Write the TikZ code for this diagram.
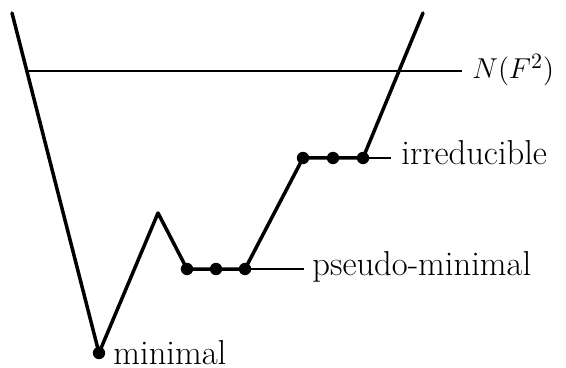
\documentclass[tikz,border=0pt]{standalone}
\begin{document}
\begin{tikzpicture}[x=0.5pt,y=-0.5pt,
  curve/.style={line width=1.75pt,line join=round,line cap=round},
  thin/.style={line width=0.8pt},
  dot/.style={circle,fill=black,inner sep=0pt,minimum size=6.2pt},
  lab/.style={font=\fontsize{17.3}{20}\selectfont,inner sep=0pt,anchor=base west},
  mlab/.style={font=\fontsize{15.5}{18}\selectfont,inner sep=0pt,anchor=base west}]
\useasboundingbox (0,0) rectangle (566,368);
\coordinate (s) at (12,13);
\coordinate (pk) at (158,213);
\coordinate (e) at (423,13);
\node[dot] (m) at (99,353) {};
\node[dot] (p1) at (187,269) {};
\node[dot] (p2) at (216,269) {};
\node[dot] (p3) at (245,269) {};
\node[dot] (i1) at (303,158) {};
\node[dot] (i2) at (333,158) {};
\node[dot] (i3) at (363,158) {};
\coordinate (nl) at (27,71);
\coordinate (nr) at (462,71);
\coordinate (pe) at (304,269);
\coordinate (ie) at (391,158);
\draw[curve] (s) -- (m.center) -- (pk) -- (p1.center) -- (p2.center) -- (p3.center) -- (i1.center) -- (i2.center) -- (i3.center) -- (e);
\draw[thin] (nl) -- (nr);
\draw[thin] (p3.center) -- (pe);
\draw[thin] (i3.center) -- (ie);
\node[mlab] (tn) at (472,79) {$N(F^2)$};
\node[lab] (tp) at (312,276) {pseudo-minimal};
\node[lab] (ti) at (401,165) {irreducible};
\node[lab] (tm) at (113,364) {minimal};
\end{tikzpicture}
\end{document}
